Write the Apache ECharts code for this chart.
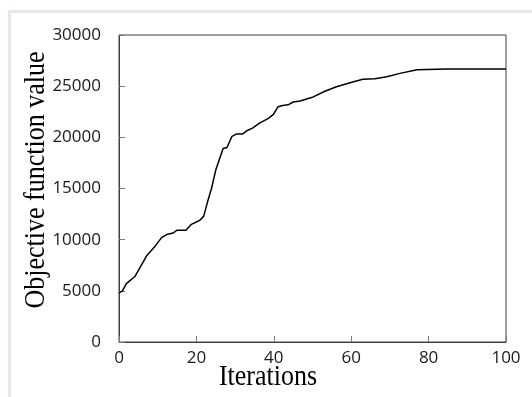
<!DOCTYPE html>
<html>
<head>
<meta charset="utf-8">
<script src="https://cdn.jsdelivr.net/npm/echarts@6/dist/echarts.min.js"></script>
<style>
html,body{margin:0;padding:0;background:#fff;}
#chart{width:532px;height:397px;}
</style>
</head>
<body>
<div id="chart"></div>
<script>
const iterations = [0, 0.9, 1.9, 4.1, 7.1, 9.2, 11, 12.3, 14, 15, 17.3, 18.7, 20.9, 21.9, 23, 23.9, 25, 26.9, 27.9, 29.2, 30.3, 31.9, 33, 34.5, 36.2, 38.6, 39.9, 41.1, 42.3, 43.7, 45, 46.8, 48.9, 50.2, 53.2, 56.2, 59.7, 63, 66.1, 69.2, 72.6, 77, 84.7, 100];
const objectiveValues = [4800, 5000, 5700, 6400, 8400, 9300, 10200, 10500, 10650, 10930, 10930, 11500, 11900, 12300, 13860, 15000, 16800, 18900, 19000, 20100, 20320, 20320, 20640, 20900, 21360, 21850, 22240, 22990, 23120, 23180, 23450, 23550, 23800, 23950, 24500, 24950, 25340, 25670, 25730, 25920, 26250, 26600, 26680, 26680];
const xTicks = [0, 20, 40, 60, 80, 100];
const yTicks = [0, 5000, 10000, 15000, 20000, 25000, 30000];
const xTitle = 'Iterations';
const yTitle = 'Objective function value';

const seriesData = iterations.map((x, i) => [x, objectiveValues[i]]);

const chart = echarts.init(document.getElementById('chart'), null, {renderer: 'canvas'});
const tickFont = {fontFamily: '"Open Sans", sans-serif', fontSize: 17, color: '#1a1a1a'};
chart.setOption({
  animation: false,
  backgroundColor: '#ffffff',
  grid: {left: 119, right: 26, top: 35, bottom: 55, show: true, borderColor: '#404040', borderWidth: 1},
  xAxis: {
    type: 'value', min: xTicks[0], max: xTicks[xTicks.length - 1], interval: 20,
    axisLine: {show: true, lineStyle: {color: '#404040', width: 1}},
    axisTick: {show: true, inside: true, length: 6, lineStyle: {color: '#7a7a7a'}},
    axisLabel: Object.assign({margin: 8, formatter: v => String(v)}, tickFont),
    splitLine: {show: false}
  },
  yAxis: {
    type: 'value', min: yTicks[0], max: yTicks[yTicks.length - 1], interval: 5000,
    axisLine: {show: true, lineStyle: {color: '#404040', width: 1}},
    axisTick: {show: true, inside: true, length: 6, lineStyle: {color: '#7a7a7a'}},
    axisLabel: Object.assign({margin: 18, formatter: v => String(v)}, tickFont),
    splitLine: {show: false}
  },
  series: [{
    type: 'line', data: seriesData, showSymbol: false, symbol: 'none',
    lineStyle: {color: '#000000', width: 1.5}
  }],
  graphic: [
    {type: 'rect', left: 8, top: 10, shape: {width: 524, height: 3}, style: {fill: '#e4e7ee'}, silent: true},
    {type: 'rect', left: 8, top: 10, shape: {width: 3, height: 387}, style: {fill: '#e4e7ee'}, silent: true},
    {type: 'text', x: 268, y: 377, scaleY: 1.1,
     style: {text: xTitle, font: '26px "Liberation Serif", "Times New Roman", serif', fill: '#000', textAlign: 'center', textVerticalAlign: 'middle'}},
    {type: 'text', x: 36, y: 180, rotation: Math.PI / 2, scaleY: 1.1,
     style: {text: yTitle, font: '26px "Liberation Serif", "Times New Roman", serif', fill: '#000', textAlign: 'center', textVerticalAlign: 'middle'}}
  ]
});
</script>
</body>
</html>
